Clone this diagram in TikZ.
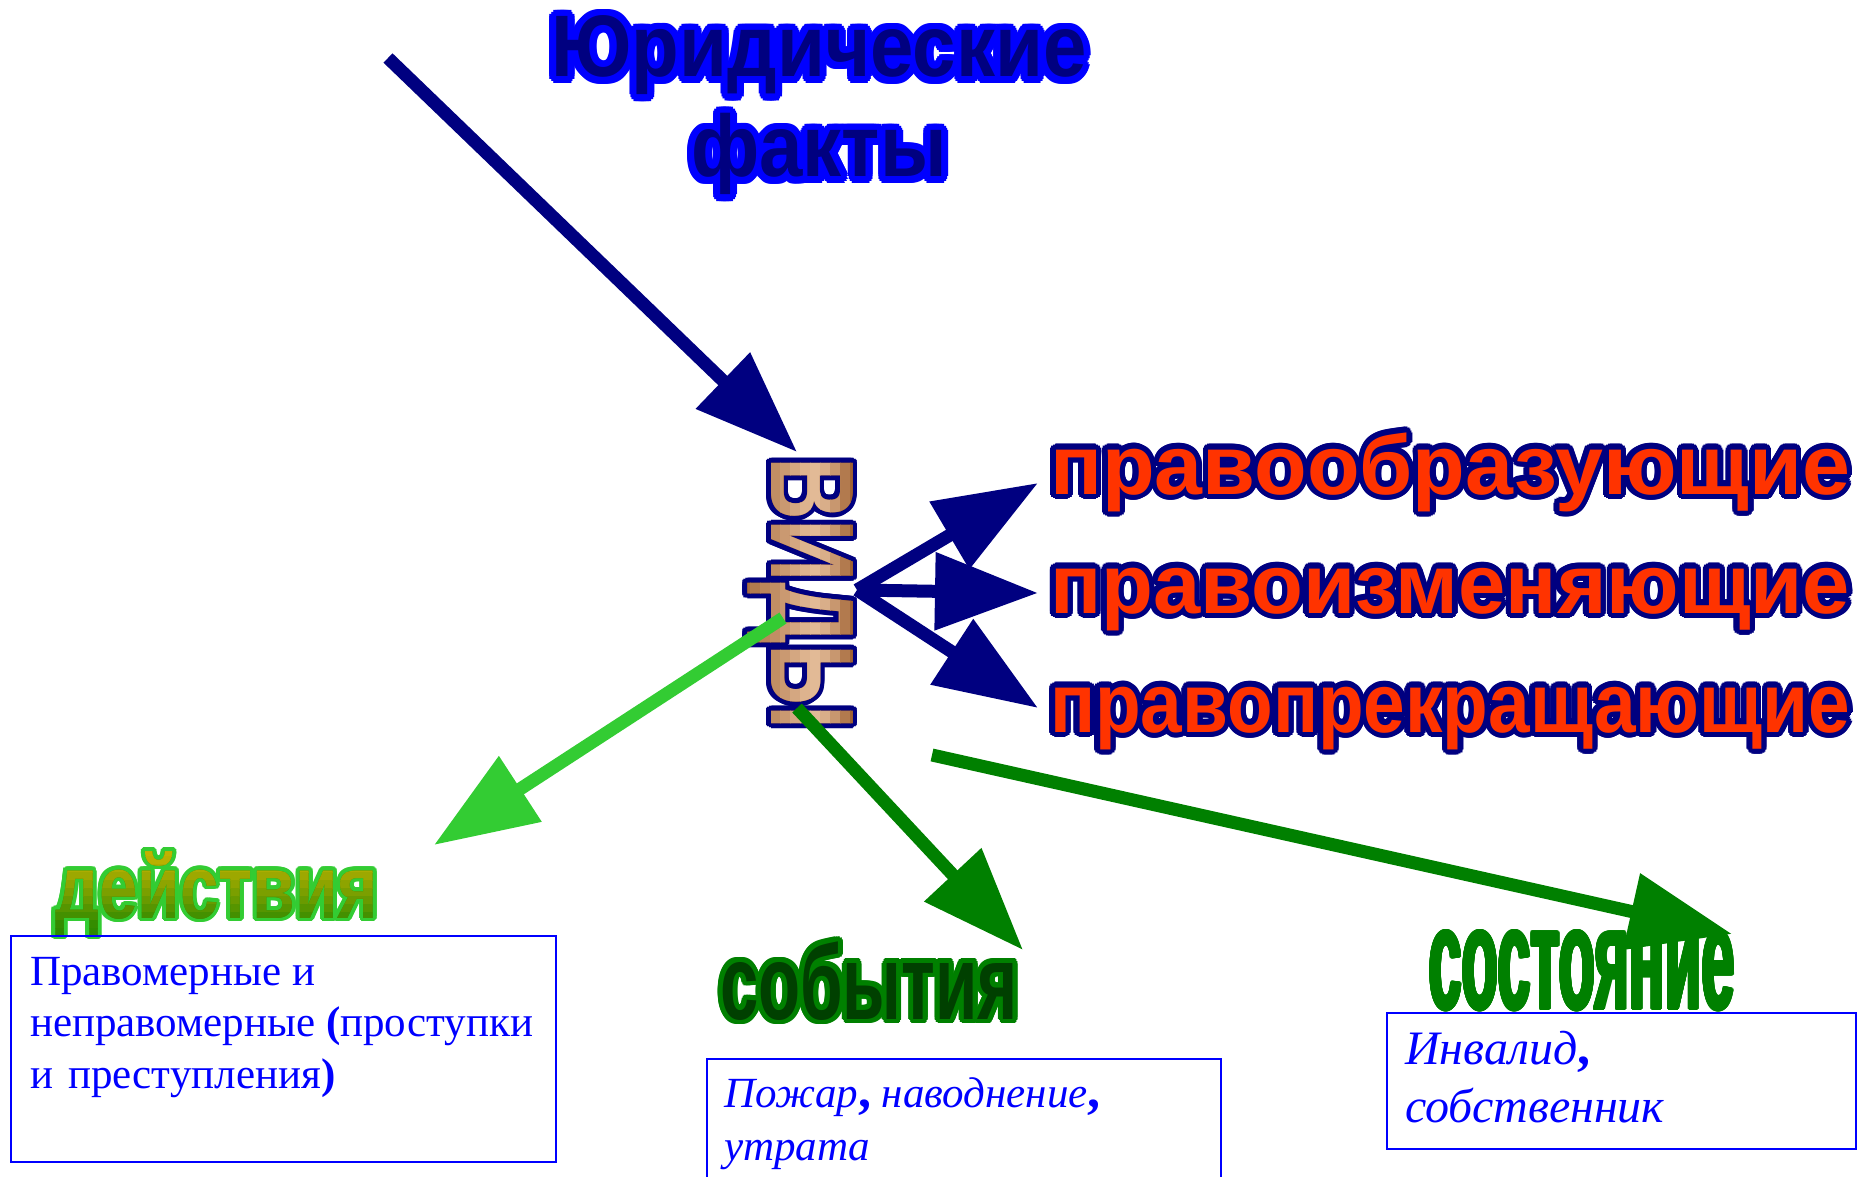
\documentclass[tikz,border=0pt]{standalone}
\usepackage{fontspec}
\usepackage{graphicx}
\usetikzlibrary{arrows.meta}
\setmainfont{Liberation Serif}
\newfontfamily\wordart{Liberation Sans}

\definecolor{navyblue}{HTML}{000080}
\definecolor{vividblue}{HTML}{0000FF}
\definecolor{redorange}{HTML}{FF3300}
\definecolor{limegreen}{HTML}{33CC33}
\definecolor{leafgreen}{HTML}{008000}
\definecolor{deepgreen}{HTML}{004000}
\definecolor{copperlight}{HTML}{E2BA96}
\definecolor{copperdark}{HTML}{8B4513}
\definecolor{oliveyellow}{HTML}{C8B400}
\definecolor{grassgreen}{HTML}{2E8A00}

% ring of shifted copies gives the thick outline of the slide's word art
\newcommand\ringcopies[3]{%
  \rlap{\color{#1}\foreach \ang in {0,20,...,340}{%
      \pgfmathsetlengthmacro\dx{#2*cos(\ang)}%
      \pgfmathsetlengthmacro\dy{#2*sin(\ang)}%
      \rlap{\kern\dx\smash{\raisebox{\dy}{#3}}}}}}
\newcommand\outlined[4]{\leavevmode\ringcopies{#1}{#3}{#4}\textcolor{#2}{#4}}
\newcommand\heavycomma{{\bfseries\upshape\fontsize{52}{52}\selectfont,}}

\begin{document}
\begin{tikzpicture}
  [x=1pt, y=-1pt,
   art/.style={inner sep=0pt, outer sep=0pt},
   titleword/.style={art, anchor=base, font={\wordart\bfseries\fontsize{78}{80}\selectfont}},
   redword/.style={art, anchor=base west, font={\wordart\bfseries\fontsize{84}{90}\selectfont}},
   vidystyle/.style={art, anchor=base west, rotate=-90, font={\wordart\bfseries\fontsize{119}{120}\selectfont}},
   actstyle/.style={art, anchor=base west, font={\wordart\bfseries\fontsize{90}{92}\selectfont}},
   infobox/.style={draw=vividblue, line width=2pt, anchor=north west, inner sep=0pt},
   boxtext/.style={inner sep=0pt, anchor=base west, text=vividblue},
   fatarrow/.style={line width=13pt, -{Triangle[length=103pt, width=75pt]}}]

  \useasboundingbox (0,0) rectangle (1866,1177);

  % title and the vertical word
  \node[titleword] (facts1) at (819,77) {\outlined{vividblue}{navyblue}{7pt}{\scalebox{1}[1.12]{Юридические}}};
  \node[titleword] (facts2) at (819,177) {\outlined{vividblue}{navyblue}{7pt}{\scalebox{1}[1.12]{факты}}};

  \coordinate (vidyorigin) at (771,457);
  \node[vidystyle] (vidy) at (vidyorigin) {\outlined{navyblue}{copperdark}{5pt}{\scalebox{0.73}[1]{ВИДЫ}}};
  \foreach \sx/\mixv in {740/35,750/45,760/55,770/62,780/72,790/84,800/94,810/100,820/90,830/70,840/45,850/25}{
    \begin{scope}
      \clip (\sx,440) rectangle ++(10.5,300);
      \node[vidystyle, text=copperlight!\mixv!copperdark] (vidy\sx) at (vidyorigin) {\scalebox{0.73}[1]{ВИДЫ}};
    \end{scope}}

  % three kinds on the right
  \node[redword] (creating) at (1050,494) {\outlined{navyblue}{redorange}{5.5pt}{\resizebox{800pt}{\height}{правообразующие}}};
  \node[redword] (changing) at (1050,613) {\outlined{navyblue}{redorange}{5.5pt}{\resizebox{800pt}{\height}{правоизменяющие}}};
  \node[redword] (ending) at (1050,732) {\outlined{navyblue}{redorange}{5.5pt}{\resizebox{800pt}{\height}{правопрекращающие}}};

  % actions
  \coordinate (actorigin) at (55,918);
  \node[actstyle] (acts) at (actorigin) {\outlined{limegreen}{grassgreen}{4pt}{\scalebox{0.77}[1]{действия}}};
  \foreach \sy/\mixv in {840/100,848/96,856/90,864/82,872/72,880/62,888/50,896/38,904/26,912/14,920/4,928/0}{
    \begin{scope}
      \clip (40,\sy) rectangle ++(360,8.5);
      \node[actstyle, text=oliveyellow!\mixv!grassgreen] (acts\sy) at (actorigin) {\scalebox{0.77}[1]{действия}};
    \end{scope}}
  \node[infobox, minimum width=545pt, minimum height=226pt] (actbox) at (10,935) {};
  \node[boxtext, font={\fontsize{43}{51.5}\selectfont}] (acttext) at (30,985)
    {\begin{tabular}[t]{@{}l@{}}Правомерные и\\неправомерные \textbf{(}проступки\\и\hspace{0.35em}преступления\textbf{)}\end{tabular}};

  % events
  \node[art, anchor=base west, font={\wordart\bfseries\fontsize{106}{108}\selectfont}] (events) at (720,1019)
    {\outlined{leafgreen}{deepgreen}{5pt}{\scalebox{0.65}[1]{события}}};
  \node[infobox, minimum width=514pt, minimum height=140pt] (eventbox) at (706,1058) {};
  \node[boxtext, font={\itshape\fontsize{43}{53}\selectfont}] (eventtext) at (724,1107)
    {\begin{tabular}[t]{@{}l@{}}Пожар\heavycomma{} наводнение\heavycomma\\утрата\end{tabular}};

  % state
  \node[infobox, minimum width=469pt, minimum height=136pt] (statebox) at (1386,1012) {};
  \node[art, anchor=base west, font={\wordart\bfseries\fontsize{145}{148}\selectfont}] (state) at (1429,1009)
    {\outlined{leafgreen}{leafgreen}{1.5pt}{\scalebox{0.41}[1]{состояние}}};
  \node[boxtext, font={\itshape\fontsize{48}{58}\selectfont}] (statetext) at (1405,1064)
    {\begin{tabular}[t]{@{}l@{}}Инвалид\heavycomma\\собственник\end{tabular}};

  % arrow ends
  \coordinate (factstail) at (388,58);
  \coordinate (factstip) at (797,452);
  \coordinate (hub) at (857,590);
  \coordinate (creatingtip) at (1038,483);
  \coordinate (changingtip) at (1038,593);
  \coordinate (endingtip) at (1038,708);
  \coordinate (actstail) at (783,618);
  \coordinate (actstip) at (434,845);
  \coordinate (eventstail) at (797,708);
  \coordinate (eventstip) at (1023,950);
  \coordinate (statetail) at (932,755);
  \coordinate (statetip) at (1732,934);

  \draw[fatarrow, navyblue] (factstail) -- (factstip);
  \draw[fatarrow, navyblue] (hub) -- (creatingtip);
  \draw[fatarrow, navyblue] (hub) -- (changingtip);
  \draw[fatarrow, navyblue] (hub) -- (endingtip);
  \draw[fatarrow, limegreen] (actstail) -- (actstip);
  \draw[fatarrow, leafgreen] (eventstail) -- (eventstip);
  \draw[fatarrow, leafgreen] (statetail) -- (statetip);
\end{tikzpicture}
\end{document}
